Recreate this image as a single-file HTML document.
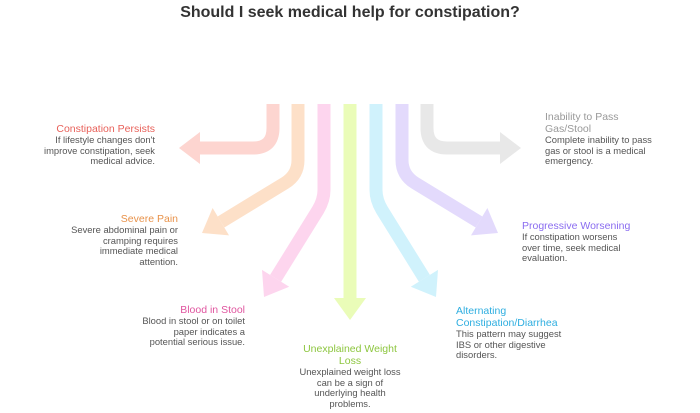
<!DOCTYPE html>
<html><head><meta charset="utf-8"><style>
body{margin:0;width:700px;height:413px;background:#fff;position:relative;overflow:hidden;font-family:"Liberation Sans",sans-serif;}
.t{position:absolute;font-size:9.4px;line-height:10.5px;color:#555;white-space:nowrap;}
.t b{display:block;font-weight:normal;font-size:10.5px;line-height:12px;}
.r{text-align:right}
h1{position:absolute;top:4px;left:0;width:700px;text-align:center;margin:0;font-size:16px;font-weight:bold;color:#333;}
</style></head><body>
<h1>Should I seek medical help for constipation?</h1>
<svg width="700" height="413" style="position:absolute;left:0;top:0" fill="none" stroke-width="13">
<path d="M273,104 L273,128 Q273,148 253,148 L200,148" stroke="#fdd5d0"/><polygon points="179,148 200,132 200,164" fill="#fdd5d0"/>
<path d="M298,104 L298,160 Q298,175 285,183 L221,222" stroke="#fde0c8"/><polygon points="202,233 229,235.4 212.6,208" fill="#fde0c8"/>
<path d="M324,104 L324,190 Q324,200 318,210 L275.6,278.3" stroke="#fdd5ee"/><polygon points="264,297 289.2,286.7 262,269.9" fill="#fdd5ee"/>
<path d="M350,104 L350,300" stroke="#eafcb8"/><polygon points="350,320 334,298 366,298" fill="#eafcb8"/>
<path d="M376,104 L376,190 Q376,200 382,210 L424.4,278.3" stroke="#d0f2fc"/><polygon points="436,297 410.8,286.7 438,269.9" fill="#d0f2fc"/>
<path d="M402,104 L402,160 Q402,175 415,183 L479,222" stroke="#e3dafc"/><polygon points="498,233 471,235.4 487.4,208" fill="#e3dafc"/>
<path d="M427,104 L427,128 Q427,148 447,148 L500,148" stroke="#e8e8e8"/><polygon points="521,148 500,132 500,164" fill="#e8e8e8"/>
</svg>
<div class="t r" style="right:545px;top:123px"><b style="color:#e8615a">Constipation Persists</b>If lifestyle changes don't<br>improve constipation, seek<br>medical advice.</div>
<div class="t r" style="right:522px;top:213px"><b style="color:#e8924a">Severe Pain</b>Severe abdominal pain or<br>cramping requires<br>immediate medical<br>attention.</div>
<div class="t r" style="right:455px;top:304px"><b style="color:#e0559f">Blood in Stool</b>Blood in stool or on toilet<br>paper indicates a<br>potential serious issue.</div>
<div class="t" style="left:290px;top:343px;width:120px;text-align:center"><b style="color:#8dc63f">Unexplained Weight<br>Loss</b>Unexplained weight loss<br>can be a sign of<br>underlying health<br>problems.</div>
<div class="t" style="left:456px;top:305px"><b style="color:#2eaee0">Alternating<br>Constipation/Diarrhea</b>This pattern may suggest<br>IBS or other digestive<br>disorders.</div>
<div class="t" style="left:522px;top:220px"><b style="color:#8a6cf0">Progressive Worsening</b>If constipation worsens<br>over time, seek medical<br>evaluation.</div>
<div class="t" style="left:545px;top:111px"><b style="color:#999">Inability to Pass<br>Gas/Stool</b>Complete inability to pass<br>gas or stool is a medical<br>emergency.</div>
</body></html>
